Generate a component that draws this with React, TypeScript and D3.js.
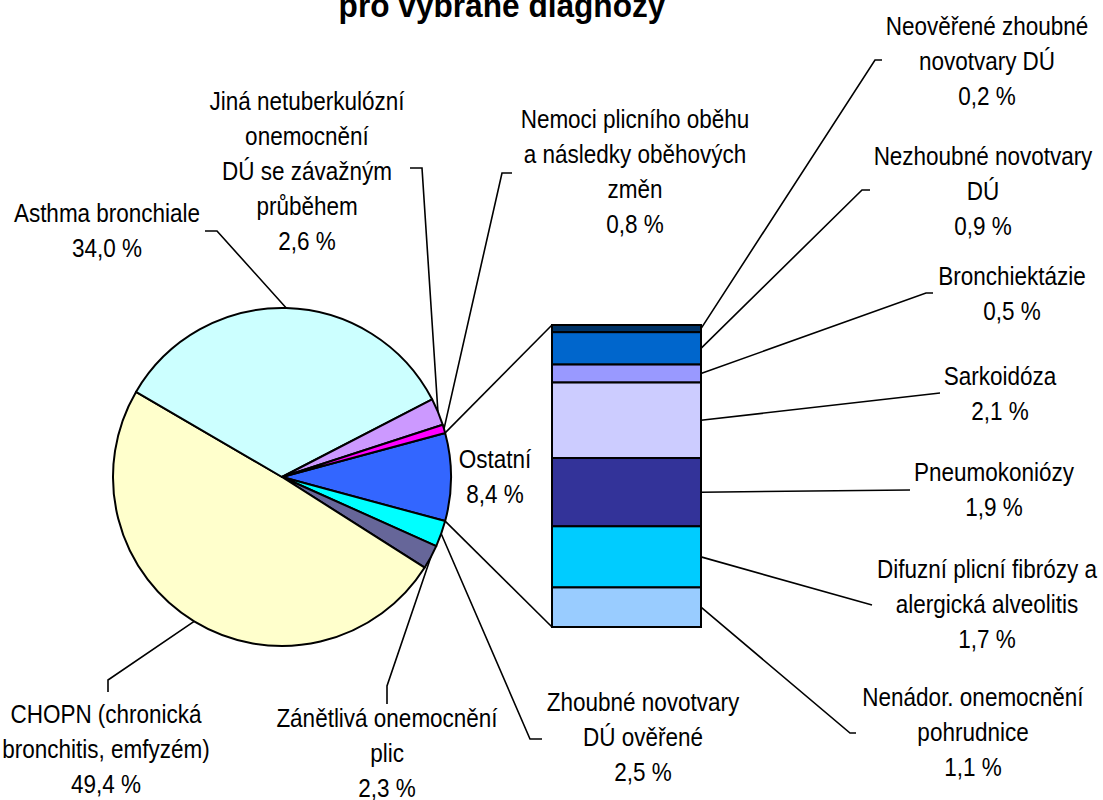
import React from "react";
import * as d3 from "d3";

// ---- data ----
const pieCategories = [
  "Ostatní",
  "Zhoubné novotvary DÚ ověřené",
  "Zánětlivá onemocnění plic",
  "CHOPN (chronická bronchitis, emfyzém)",
  "Asthma bronchiale",
  "Jiná netuberkulózní onemocnění DÚ se závažným průběhem",
  "Nemoci plicního oběhu a následky oběhových změn",
];
const pieValues = [8.4, 2.5, 2.3, 49.4, 34.0, 2.6, 0.8];
const pieLabelLines = [
  ["Ostatní", "8,4 %"],
  ["Zhoubné novotvary", "DÚ ověřené", "2,5 %"],
  ["Zánětlivá onemocnění", "plic", "2,3 %"],
  ["CHOPN (chronická", "bronchitis, emfyzém)", "49,4 %"],
  ["Asthma bronchiale", "34,0 %"],
  ["Jiná netuberkulózní", "onemocnění", "DÚ se závažným", "průběhem", "2,6 %"],
  ["Nemoci plicního oběhu", "a následky oběhových", "změn", "0,8 %"],
];

const barCategories = [
  "Neověřené zhoubné novotvary DÚ",
  "Nezhoubné novotvary DÚ",
  "Bronchiektázie",
  "Sarkoidóza",
  "Pneumokoniózy",
  "Difuzní plicní fibrózy a alergická alveolitis",
  "Nenádor. onemocnění pohrudnice",
];
const barValues = [0.2, 0.9, 0.5, 2.1, 1.9, 1.7, 1.1];
const barLabelLines = [
  ["Neověřené zhoubné", "novotvary DÚ", "0,2 %"],
  ["Nezhoubné novotvary", "DÚ", "0,9 %"],
  ["Bronchiektázie", "0,5 %"],
  ["Sarkoidóza", "2,1 %"],
  ["Pneumokoniózy", "1,9 %"],
  ["Difuzní plicní fibrózy a", "alergická alveolitis", "1,7 %"],
  ["Nenádor. onemocnění", "pohrudnice", "1,1 %"],
];

const titleText = "pro vybrané diagnózy";

// ---- styles / layout ----
const pieColors = ["#3366FF", "#00FFFF", "#666699", "#FFFFCC", "#CCFFFF", "#CC99FF", "#FF00FF"];
const barColors = ["#003366", "#0066CC", "#9999FF", "#CCCCFF", "#333399", "#00CCFF", "#99CCFF"];

const W = 1103;
const H = 800;
const CX = 282;
const CY = 477;
const R = 169;
const BAR_X0 = 552;
const BAR_X1 = 701;
const BAR_TOP = 325;
const BAR_BOTTOM = 627;
const FONT = "'Liberation Sans', Arial, sans-serif";
const FS = 25;
const SX = 0.9;
const LH = 35;

const pieLabelLayout: { x: number; y: number; leader: [number, number][] | null }[] = [
  { x: 495, y: 468, leader: null },
  { x: 643, y: 711, leader: [[542, 739], [530, 739]] },
  { x: 387, y: 727, leader: [[387, 704], [387, 686]] },
  { x: 106, y: 723, leader: [[108, 692], [108, 680]] },
  { x: 107, y: 222, leader: [[205, 231], [217, 231]] },
  { x: 307, y: 110, leader: [[410, 168], [422, 168]] },
  { x: 635, y: 128, leader: [[512, 173], [502, 173]] },
];
const barLabelLayout: { x: number; y: number; leader: [number, number][] }[] = [
  { x: 987, y: 35, leader: [[882, 60], [875, 60]] },
  { x: 983, y: 165, leader: [[870, 190], [862, 190]] },
  { x: 1012, y: 285, leader: [[933, 293], [926, 293]] },
  { x: 1000, y: 385, leader: [[940, 393]] },
  { x: 994, y: 481, leader: [[910, 490]] },
  { x: 987, y: 578, leader: [[872, 605]] },
  { x: 973, y: 706, leader: [[856, 733], [850, 733]] },
];

function Label({ lines, x, y }: { lines: string[]; x: number; y: number }) {
  return (
    <g transform={`translate(${x},0) scale(${SX},1)`}>
      <text fontSize={FS} textAnchor="middle" fill="#000">
        {lines.map((l, j) => (
          <tspan key={j} x={0} y={y + j * LH}>
            {l}
          </tspan>
        ))}
      </text>
    </g>
  );
}

export default function App() {
  const total = d3.sum(pieValues);
  const half = (pieValues[0] / total) * Math.PI;
  const pie = d3
    .pie<number>()
    .sort(null)
    .value((d) => d)
    .startAngle(Math.PI / 2 - half)
    .endAngle(Math.PI / 2 - half + 2 * Math.PI);
  const arcs = pie(pieValues);
  const arc = d3.arc<d3.PieArcDatum<number>>().innerRadius(0).outerRadius(R);
  const edge = (a: number): [number, number] => [CX + R * Math.sin(a), CY - R * Math.cos(a)];

  const yBar = d3.scaleLinear().domain([0, d3.sum(barValues)]).range([BAR_TOP, BAR_BOTTOM]);
  const cum = d3.cumsum(barValues);
  const segs = barValues.map((v, i) => ({ y0: yBar(cum[i] - v), y1: yBar(cum[i]) }));

  const line = d3.line();
  const ost = arcs[0];
  const ostTop = edge(ost.startAngle);
  const ostBot = edge(ost.endAngle);

  return (
    <svg
      width={W}
      height={H}
      style={{ position: "absolute", left: 0, top: 0, background: "#fff" }}
      fontFamily={FONT}
    >
      <g transform={`translate(502,0) scale(0.93,1)`}>
        <text x={0} y={17} textAnchor="middle" fontWeight="bold" fontSize={34}>
          {titleText}
        </text>
      </g>

      {/* connector lines */}
      <path d={line([ostTop, [BAR_X0, BAR_TOP]]) || ""} stroke="#000" strokeWidth={1.6} fill="none" />
      <path d={line([ostBot, [BAR_X0, BAR_BOTTOM]]) || ""} stroke="#000" strokeWidth={1.6} fill="none" />

      {/* pie leaders */}
      {arcs.map((a, i) => {
        const lay = pieLabelLayout[i];
        if (!lay.leader) return null;
        const mid = (a.startAngle + a.endAngle) / 2;
        const pts = [...lay.leader, edge(mid)];
        return <path key={"pl" + i} d={line(pts) || ""} stroke="#000" strokeWidth={1.6} fill="none" />;
      })}

      {/* bar leaders */}
      {segs.map((s, i) => {
        const pts = [...barLabelLayout[i].leader, [BAR_X1, (s.y0 + s.y1) / 2] as [number, number]];
        return <path key={"bl" + i} d={line(pts) || ""} stroke="#000" strokeWidth={1.6} fill="none" />;
      })}

      {/* pie */}
      <g transform={`translate(${CX},${CY})`}>
        {arcs.map((a, i) => (
          <path
            key={pieCategories[i]}
            d={arc(a) || ""}
            fill={pieColors[i]}
            stroke="#000"
            strokeWidth={2}
            strokeLinejoin="round"
          />
        ))}
      </g>

      {/* bar */}
      {segs.map((s, i) => (
        <rect
          key={barCategories[i]}
          x={BAR_X0}
          y={s.y0}
          width={BAR_X1 - BAR_X0}
          height={s.y1 - s.y0}
          fill={barColors[i]}
          stroke="#000"
          strokeWidth={2}
        />
      ))}

      {/* labels */}
      {pieLabelLines.map((lines, i) => (
        <Label key={"pt" + i} lines={lines} x={pieLabelLayout[i].x} y={pieLabelLayout[i].y} />
      ))}
      {barLabelLines.map((lines, i) => (
        <Label key={"bt" + i} lines={lines} x={barLabelLayout[i].x} y={barLabelLayout[i].y} />
      ))}
    </svg>
  );
}
